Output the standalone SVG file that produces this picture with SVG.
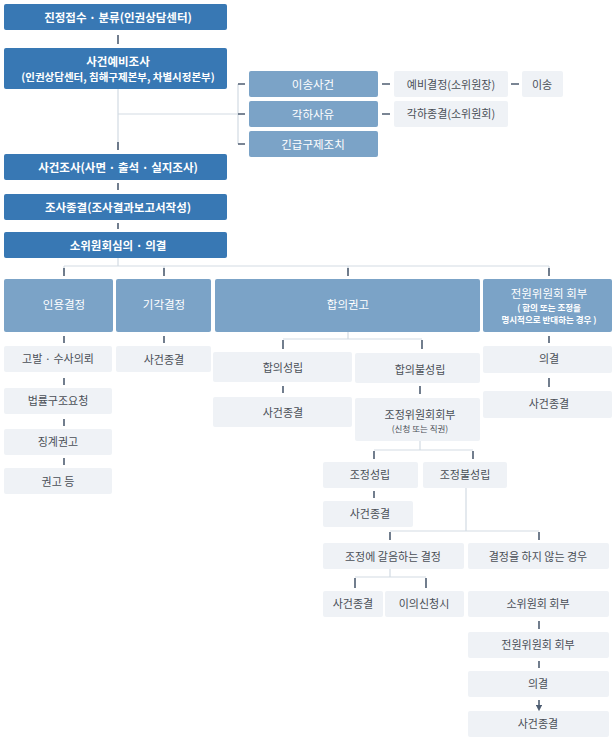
<svg xmlns="http://www.w3.org/2000/svg" width="616" height="741" viewBox="0 0 616 741">
<style>
text{font-family:"Noto Sans CJK KR","Noto Sans",sans-serif;text-anchor:middle;dominant-baseline:central}
.d rect{fill:#3878b4}.m rect{fill:#7ba3c7}.l rect{fill:#eff2f6}
.d text,.m text{fill:#fff;font-size:11.5px;font-weight:bold}
.l text{fill:#4a4f57;font-size:11px}
.s{font-size:8.5px!important}
.ln{stroke:#d3dbe3;stroke-width:1.2;fill:none}
.ar{stroke:#4f5e72;stroke-width:1.6;fill:none;marker-end:url(#h)}
</style>
<defs><marker id="h" viewBox="0 0 10 10" refX="5" refY="5" markerWidth="4" markerHeight="4" orient="auto"><path d="M0,0L10,5L0,10z" fill="#4f5e72"/></marker></defs>
<rect width="616" height="741" fill="#fff"/>
<g id="connectors">
<path class="ln" d="M118 89V150M118 114H238M238 84V144M118 258V266M64 266H549M64 266V272M164 266V272M348 266V272M549 266V272M348 332V339M283 339H422M420 441V450M374 450H473M466 488V531M390 531H539M390 569V577M355 577H426"/>
<path class="ar" d="M118 35V44M118 142V150M118 183V190M118 223V229M238 84H245M238 114H245M238 144H245M382 84H390M382 114H390M511 84H519M64 268V276M164 268V276M348 268V276M549 268V276M64 336V343M64 378V385M64 419V426M64 458V465M164 336V343M283 340V349M422 340V349M283 386V393M420 386V394M549 336V343M549 378V387M374 451V459M473 451V459M374 491V498M390 532V540M539 532V540M355 578V588M426 578V588M539 621V629M539 661V668M539 700V708"/>
</g>
<g id="n1" class="d"><rect x="4" y="4" width="223" height="26" rx="2"/><text x="118" y="17">진정접수 · 분류(인권상담센터)</text></g>
<g id="n2" class="d"><rect x="4" y="48" width="223" height="41" rx="2"/><text x="118" y="61">사건예비조사</text><text x="118" y="76" style="font-size:10.5px">(인권상담센터, 침해구제본부, 차별시정본부)</text></g>
<g id="n3" class="d"><rect x="4" y="154" width="223" height="26" rx="2"/><text x="118" y="167">사건조사(사면 · 출석 · 실지조사)</text></g>
<g id="n4" class="d"><rect x="4" y="194" width="223" height="26" rx="2"/><text x="118" y="207">조사종결(조사결과보고서작성)</text></g>
<g id="n5" class="d"><rect x="4" y="232" width="223" height="26" rx="2"/><text x="118" y="245">소위원회심의 · 의결</text></g>
<g id="n6" class="m"><rect x="249" y="71" width="129" height="26" rx="2"/><text x="313" y="84" style="font-weight:normal">이송사건</text></g>
<g id="n7" class="m"><rect x="249" y="101" width="129" height="26" rx="2"/><text x="313" y="114" style="font-weight:normal">각하사유</text></g>
<g id="n8" class="m"><rect x="249" y="131" width="129" height="26" rx="2"/><text x="313" y="144" style="font-weight:normal">긴급구제조치</text></g>
<g id="n9" class="l"><rect x="394" y="71" width="114" height="26" rx="2"/><text x="451" y="84">예비결정(소위원장)</text></g>
<g id="n10" class="l"><rect x="522" y="71" width="41" height="26" rx="2"/><text x="542" y="84">이송</text></g>
<g id="n11" class="l"><rect x="394" y="101" width="114" height="26" rx="2"/><text x="451" y="113">각하종결(소위원회)</text></g>
<g id="n12" class="m"><rect x="4" y="279" width="109" height="53" rx="2"/><text x="64" y="304" style="font-weight:normal">인용결정</text></g>
<g id="n13" class="m"><rect x="116" y="279" width="95" height="53" rx="2"/><text x="164" y="304" style="font-weight:normal">기각결정</text></g>
<g id="n14" class="m"><rect x="215" y="279" width="265" height="53" rx="2"/><text x="348" y="304" style="font-weight:normal">합의권고</text></g>
<g id="n15" class="m"><rect x="483" y="279" width="129" height="53" rx="2"/><text x="549" y="293" style="font-weight:normal">전원위원회 회부</text><text x="549" y="307" class="s">( 합의 또는 조정을</text><text x="549" y="319" class="s">명시적으로 반대하는 경우 )</text></g>
<g id="n16" class="l"><rect x="4" y="346" width="108" height="26" rx="2"/><text x="58" y="358">고발 · 수사의뢰</text></g>
<g id="n17" class="l"><rect x="4" y="388" width="108" height="26" rx="2"/><text x="58" y="400">법률구조요청</text></g>
<g id="n18" class="l"><rect x="4" y="429" width="108" height="26" rx="2"/><text x="58" y="441">징계권고</text></g>
<g id="n19" class="l"><rect x="4" y="468" width="108" height="26" rx="2"/><text x="58" y="481">권고 등</text></g>
<g id="n20" class="l"><rect x="116" y="346" width="95" height="26" rx="2"/><text x="164" y="359">사건종결</text></g>
<g id="n21" class="l"><rect x="213" y="352" width="139" height="30" rx="2"/><text x="283" y="367">합의성립</text></g>
<g id="n22" class="l"><rect x="355" y="353" width="125" height="30" rx="2"/><text x="420" y="369">합의불성립</text></g>
<g id="n23" class="l"><rect x="213" y="397" width="139" height="30" rx="2"/><text x="283" y="412">사건종결</text></g>
<g id="n24" class="l"><rect x="355" y="398" width="125" height="43" rx="2"/><text x="420" y="414">조정위원회회부</text><text x="420" y="428" class="s">(신청 또는 직권)</text></g>
<g id="n25" class="l"><rect x="323" y="462" width="95" height="26" rx="2"/><text x="370" y="474">조정성립</text></g>
<g id="n26" class="l"><rect x="423" y="462" width="84" height="26" rx="2"/><text x="465" y="474">조정불성립</text></g>
<g id="n27" class="l"><rect x="323" y="501" width="90" height="26" rx="2"/><text x="370" y="513">사건종결</text></g>
<g id="n28" class="l"><rect x="323" y="543" width="141" height="26" rx="2"/><text x="393" y="556">조정에 갈음하는 결정</text></g>
<g id="n29" class="l"><rect x="468" y="543" width="141" height="26" rx="2"/><text x="538" y="556">결정을 하지 않는 경우</text></g>
<g id="n30" class="l"><rect x="323" y="591" width="60" height="26" rx="2"/><text x="353" y="603">사건종결</text></g>
<g id="n31" class="l"><rect x="385" y="591" width="79" height="26" rx="2"/><text x="424" y="603">이의신청시</text></g>
<g id="n32" class="l"><rect x="468" y="591" width="141" height="26" rx="2"/><text x="538" y="603">소위원회 회부</text></g>
<g id="n33" class="l"><rect x="468" y="632" width="141" height="26" rx="2"/><text x="538" y="644">전원위원회 회부</text></g>
<g id="n34" class="l"><rect x="468" y="671" width="141" height="26" rx="2"/><text x="538" y="683">의결</text></g>
<g id="n35" class="l"><rect x="468" y="711" width="141" height="26" rx="2"/><text x="538" y="723">사건종결</text></g>
<g id="n36" class="l"><rect x="483" y="346" width="129" height="27" rx="2"/><text x="549" y="358">의결</text></g>
<g id="n37" class="l"><rect x="483" y="391" width="129" height="27" rx="2"/><text x="549" y="403">사건종결</text></g>
</svg>
